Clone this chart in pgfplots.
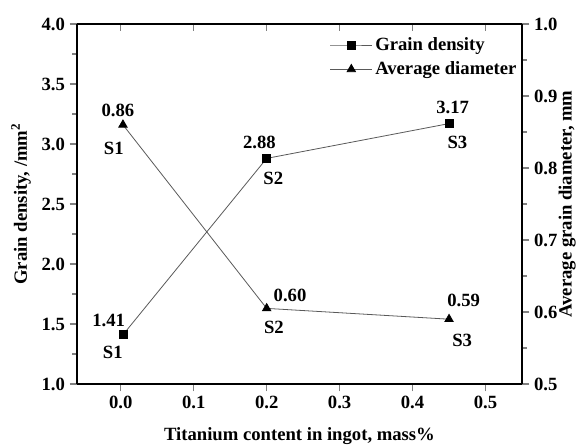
\documentclass[border=0pt]{standalone}
\usepackage{pgfplots}
\pgfplotsset{compat=1.18}
\usepackage{fontspec}
\setmainfont{Liberation Serif}

\newcommand\chartfont{\fontsize{14}{16}\selectfont\bfseries}

\pgfplotsset{
  base/.style={
    scale only axis, width=333.75pt, height=270pt,
    at={(0,0)}, anchor=south west,
    xmin=-0.06, xmax=0.55,
    xtick={0,0.1,0.2,0.3,0.4,0.5},
    axis line style={line width=1.1pt},
    major tick style={line width=0.9pt},
    minor tick style={line width=0.9pt},
    major tick length=5.5pt, minor tick length=3.5pt,
    tick label style={font=\chartfont},
    label style={font=\chartfont},
    /pgf/number format/assume math mode=true,
    /pgf/number format/.cd, fixed, zerofill, precision=1,
  },
}

\begin{document}
\begin{tikzpicture}
\useasboundingbox (-57.75pt,-45.75pt) rectangle (376.5pt,288pt);

% grain density, left scale
\begin{axis}[base,
  axis x line*=bottom, axis y line*=left,
  tick align=outside,
  ymin=1, ymax=4, ytick={1,1.5,2,2.5,3,3.5,4}, minor y tick num=1,
  xlabel={Titanium content in ingot, mass\%},
  ylabel={Grain density, /mm$^{\mathbf{2}}$},
  xlabel style={at={(axis description cs:0.5,0)}, anchor=center, yshift=-39pt},
  ylabel style={at={(axis description cs:0,0.5)}, anchor=center, yshift=42pt},
]
\addplot[gray!70!black, line width=0.6pt, mark=square*, mark size=3pt,
  mark options={black, solid}]
  coordinates {(0.003,1.41) (0.2,2.88) (0.45,3.17)};

\begin{scope}[every node/.style={font=\chartfont}]
\node at (axis cs:-0.004,3.283) {0.86};
\node at (axis cs:-0.0096,2.967) {S1};
\node at (axis cs:0.19,3.017) {2.88};
\node at (axis cs:0.209,2.717) {S2};
\node at (axis cs:0.455,3.308) {3.17};
\node at (axis cs:0.4615,3.017) {S3};
\node at (axis cs:-0.0165,1.533) {1.41};
\node at (axis cs:-0.011,1.267) {S1};
\node at (axis cs:0.232,1.742) {0.60};
\node at (axis cs:0.21,1.475) {S2};
\node at (axis cs:0.47,1.70) {0.59};
\node at (axis cs:0.468,1.367) {S3};
\end{scope}
\end{axis}

% top edge with inward ticks
\begin{axis}[base,
  axis x line*=top, hide y axis,
  tick align=inside, xticklabels={},
  ymin=0, ymax=1,
]
\end{axis}

% average diameter, right scale
\begin{axis}[base,
  hide x axis, axis y line*=right,
  tick align=outside,
  ymin=0.5, ymax=1, ytick={0.5,0.6,0.7,0.8,0.9,1.0}, minor y tick num=1,
  ylabel={Average grain diameter, mm},
  ylabel style={at={(axis description cs:1,0.5)}, anchor=center, yshift=-34pt},
  legend style={at={(axis description cs:1,0.978)}, anchor=north east,
    draw=none, fill=none, font=\chartfont,
    row sep=3pt, inner sep=2pt},
  legend cell align=left,
  legend image code/.code={
    \draw[mark repeat=2, mark phase=2]
      plot coordinates {(0cm,0cm) (0.55cm,0cm) (1.1cm,0cm)};},
]
\addlegendimage{gray!70!black, line width=0.6pt, mark=square*, mark size=3pt,
  mark options={black, solid}}
\addlegendentry{Grain density}
\addplot[gray!70!black, line width=0.6pt, mark=triangle*, mark size=3.6pt,
  mark options={black, solid}]
  coordinates {(0.003,0.86) (0.2,0.605) (0.45,0.59)};
\addlegendentry{Average diameter}
\end{axis}
\end{tikzpicture}
\end{document}
